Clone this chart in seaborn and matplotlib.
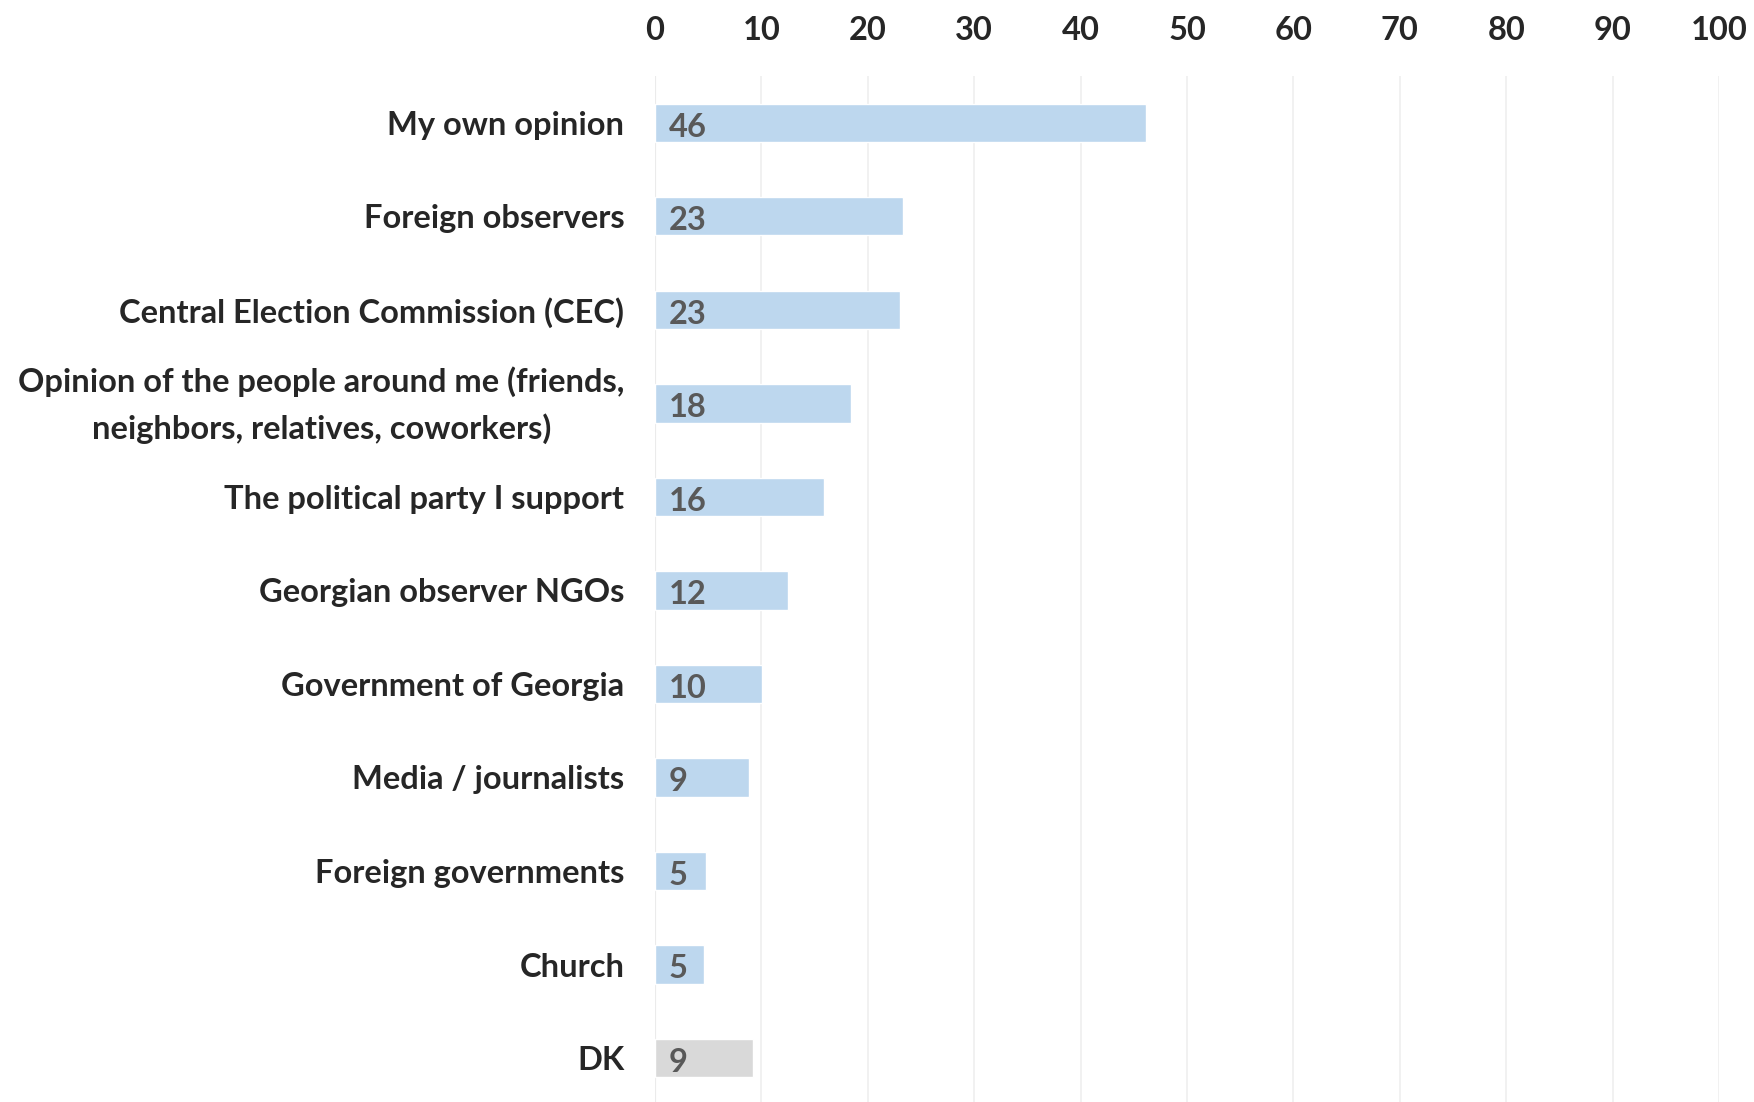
import matplotlib
matplotlib.use("Agg")
import matplotlib.pyplot as plt
import matplotlib.transforms as mtransforms
import seaborn as sns
import pandas as pd

sns.set_style("white")
plt.rcParams['font.family'] = ['Lato', 'DejaVu Sans']

# Data
categories = ["My own opinion",
              "Foreign observers",
              "Central Election Commission (CEC)",
              "Opinion of the people around me (friends,\nneighbors, relatives, coworkers)",
              "The political party I support",
              "Georgian observer NGOs",
              "Government of Georgia",
              "Media / journalists",
              "Foreign governments",
              "Church",
              "DK"]
values = [46.1, 23.3, 23.0, 18.4, 15.9, 12.5, 10.1, 8.8, 4.8, 4.6, 9.2]
labels = [46, 23, 23, 18, 16, 12, 10, 9, 5, 5, 9]
groups = ["main"] * 10 + ["dk"]
ticks = [0, 10, 20, 30, 40, 50, 60, 70, 80, 90, 100]

df = pd.DataFrame({"category": categories, "value": values, "group": groups})

fig = plt.figure(figsize=(17.54, 11.02), dpi=100)
ax = fig.add_axes([655 / 1754, 0, (1719 - 655) / 1754, 1 - 76 / 1102])

sns.barplot(data=df, x="value", y="category", hue="group",
            palette={"main": "#bdd7ee", "dk": "#d9d9d9"}, saturation=1,
            width=0.41, legend=False, dodge=False, ax=ax)

for i, (v, lab) in enumerate(zip(values, labels)):
    ax.text(1.3, i + 0.02, str(lab), va="center_baseline", ha="left", fontsize=23.5,
            fontweight="bold", color="#595959")

ax.set_xlim(0, 100)
ax.set_ylim(10.47, -0.5)
ax.set_xticks(ticks)
ax.xaxis.tick_top()
ax.tick_params(axis="x", length=0, pad=22, labelsize=23.5)
ax.tick_params(axis="y", length=0, pad=22, labelsize=23.5)
for t in ax.get_xticklabels():
    t.set_fontweight("bold")
for t in ax.get_yticklabels():
    t.set_fontweight("bold")
    t.set_multialignment("center")
    t.set_linespacing(1.62)
    if "\n" in t.get_text():
        # nudge the two-line label up a little, as in the original
        t.set_transform(t.get_transform() +
                        mtransforms.ScaledTranslation(0, 0.09, fig.dpi_scale_trans))
ax.grid(axis="x", color="#efefef", linewidth=1.2)
ax.set_axisbelow(True)
ax.set_xlabel("")
ax.set_ylabel("")
for s in ax.spines.values():
    s.set_visible(False)
ax.axvline(0, color="#d9d9d9", linewidth=1.5, zorder=0.5)

fig.savefig("out.png", dpi=100)
